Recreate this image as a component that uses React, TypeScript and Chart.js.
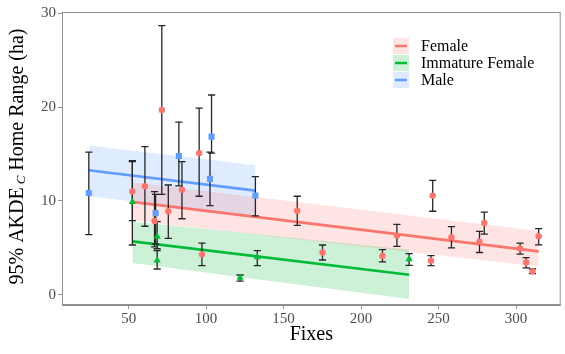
import React, { useEffect, useRef } from 'react';
import { Chart, registerables } from 'chart.js';

Chart.register(...registerables);

// ---------------- data ----------------
const femaleX = [52.4, 60.5, 66.7, 71.4, 75.6, 84.4, 95.5, 97.3, 158.8, 175.1, 213.8, 223.1, 245.1, 246.2, 258.3, 276.4, 279.5, 302.6, 306.5, 310.6, 314.6];
const femaleY = [11.0, 11.56, 7.86, 19.7, 8.9, 11.2, 15.1, 4.3, 8.96, 4.5, 4.13, 6.3, 3.63, 10.57, 6.12, 5.64, 7.65, 4.92, 3.43, 2.49, 6.22];
const femaleLo = [7.9, 7.3, 5.1, 10.7, 6.0, 8.1, 10.5, 3.1, 7.4, 3.7, 3.5, 5.15, 3.1, 8.9, 5.0, 4.5, 6.45, 4.32, 2.87, 2.24, 5.32];
const femaleHi = [14.2, 15.8, 11.0, 28.7, 11.7, 14.2, 19.9, 5.5, 10.5, 5.3, 4.8, 7.5, 4.16, 12.2, 7.25, 6.76, 8.8, 5.5, 3.95, 2.74, 7.05];

const immX = [52.4, 68.4, 68.4, 121.9, 133.0, 231.0];
const immY = [9.9, 6.2, 3.66, 1.82, 4.0, 3.8];
const immLo = [5.3, 4.9, 2.74, 1.45, 3.1, 3.13];
const immHi = [14.3, 7.8, 4.7, 2.1, 4.7, 4.37];

const maleX = [24.3, 67.4, 82.4, 102.5, 103.5, 131.8];
const maleY = [10.85, 8.7, 14.8, 12.35, 16.86, 10.57];
const maleLo = [6.4, 5.4, 11.6, 9.5, 15.1, 8.4];
const maleHi = [15.2, 10.7, 18.4, 15.2, 21.3, 12.6];

// fitted lines and confidence ribbons
const femaleFitX = [52.4, 314.6];
const femaleFitY = [9.9, 4.62];
const femaleBandHi = [12.0, 6.8];
const femaleBandLo = [7.9, 3.0];

const immFitX = [52.4, 231.0];
const immFitY = [5.69, 2.13];
const immBandHi = [7.8, 4.8];
const immBandLo = [3.38, -0.46];

const maleFitX = [24.3, 131.8];
const maleFitY = [13.27, 11.1];
const maleBandHi = [15.9, 13.8];
const maleBandLo = [10.5, 8.4];

const xTicks = [50, 100, 150, 200, 250, 300];
const yTicks = [0, 10, 20, 30];
const legendLabels = ['Female', 'Immature Female', 'Male'];
const yTitleParts = ['95% AKDE', 'C', ' Home Range (ha)'];

// ---------------- styles ----------------
const RED = '#F8766D';
const GREEN = '#00BA38';
const BLUE = '#619CFF';
const RED_FILL = 'rgba(248,118,109,0.2)';
const GREEN_FILL = 'rgba(0,186,56,0.2)';
const BLUE_FILL = 'rgba(97,156,255,0.2)';
const FONT = "'Liberation Serif', 'Times New Roman', serif";
const AXIS = '#8f8f8f';

const pts = (xs: number[], ys: number[]) => xs.map((x, i) => ({ x, y: ys[i] }));

const errorBarPlugin = {
  id: 'errorBars',
  beforeDatasetsDraw(chart: any) {
    chart.$errDrawn = false;
  },
  beforeDatasetDraw(chart: any, args: any) {
    const ds = chart.data.datasets[args.index];
    if (!ds.isPoints || chart.$errDrawn) return;
    chart.$errDrawn = true;
    const { ctx, scales } = chart;
    const xs = scales.x, ys = scales.y;
    const groups = [
      [femaleX, femaleLo, femaleHi],
      [immX, immLo, immHi],
      [maleX, maleLo, maleHi],
    ];
    ctx.save();
    ctx.strokeStyle = '#262626';
    ctx.lineWidth = 1.3;
    const cap = 3.6;
    groups.forEach(([gx, lo, hi]) => {
      gx.forEach((x: number, i: number) => {
        const px = xs.getPixelForValue(x);
        const p1 = ys.getPixelForValue(lo[i]);
        const p2 = ys.getPixelForValue(hi[i]);
        ctx.beginPath();
        ctx.moveTo(px, p1);
        ctx.lineTo(px, p2);
        ctx.moveTo(px - cap, p1);
        ctx.lineTo(px + cap, p1);
        ctx.moveTo(px - cap, p2);
        ctx.lineTo(px + cap, p2);
        ctx.stroke();
      });
    });
    ctx.restore();
  },
};

const frameLegendPlugin = {
  id: 'frameLegend',
  afterDraw(chart: any) {
    const { ctx, chartArea } = chart;
    ctx.save();
    ctx.strokeStyle = AXIS;
    ctx.lineWidth = 1;
    ctx.strokeRect(chartArea.left + 0.5, chartArea.top + 0.5, chartArea.right - chartArea.left - 1, chartArea.bottom - chartArea.top - 1);

    // legend
    const colors = [RED, GREEN, BLUE];
    const fills = [RED_FILL, GREEN_FILL, BLUE_FILL];
    const x0 = 393;
    legendLabels.forEach((label, i) => {
      const cy = 46 + i * 17;
      ctx.fillStyle = fills[i];
      ctx.fillRect(x0, cy - 8, 16, 16);
      ctx.strokeStyle = colors[i];
      ctx.lineWidth = 2.5;
      ctx.beginPath();
      ctx.moveTo(x0 + 2, cy);
      ctx.lineTo(x0 + 14, cy);
      ctx.stroke();
      ctx.fillStyle = '#000';
      ctx.font = `16px ${FONT}`;
      ctx.textBaseline = 'middle';
      ctx.textAlign = 'left';
      ctx.fillText(label, 421, cy + 1);
    });

    // y-axis title with subscript C
    const mainFont = `20px ${FONT}`;
    const subFont = `italic 13px ${FONT}`;
    ctx.font = mainFont;
    const w1 = ctx.measureText(yTitleParts[0]).width;
    const w3 = ctx.measureText(yTitleParts[2]).width;
    const wSpace = ctx.measureText(' ').width;
    ctx.font = subFont;
    const w2 = ctx.measureText(yTitleParts[1]).width;
    const total = w1 + wSpace * 0.6 + w2 + w3;
    const cy = (chartArea.top + chartArea.bottom) / 2 - 2;
    ctx.translate(16, cy);
    ctx.rotate(-Math.PI / 2);
    ctx.fillStyle = '#000';
    ctx.textAlign = 'left';
    ctx.textBaseline = 'alphabetic';
    let x = -total / 2;
    ctx.font = mainFont;
    ctx.fillText(yTitleParts[0], x, 7);
    x += w1 + wSpace * 0.6;
    ctx.font = subFont;
    ctx.fillText(yTitleParts[1], x, 9);
    x += w2;
    ctx.font = mainFont;
    ctx.fillText(yTitleParts[2], x, 7);
    ctx.restore();
  },
};

export default function App() {
  const ref = useRef<HTMLCanvasElement | null>(null);
  useEffect(() => {
    if (!ref.current) return;
    const band = (xs: number[], ys: number[], fill: any, color: string) => ({
      type: 'line',
      data: pts(xs, ys),
      borderWidth: 0,
      borderColor: 'rgba(0,0,0,0)',
      backgroundColor: color,
      pointRadius: 0,
      fill,
      order: 3,
      tension: 0,
    });
    const fit = (xs: number[], ys: number[], color: string) => ({
      type: 'line',
      data: pts(xs, ys),
      borderWidth: 2.6,
      borderColor: color,
      pointRadius: 0,
      fill: false,
      order: 2,
      tension: 0,
    });
    const points = (xs: number[], ys: number[], color: string, style: string, r: number) => ({
      type: 'line',
      data: pts(xs, ys),
      showLine: false,
      pointStyle: style,
      pointRadius: r,
      pointBackgroundColor: color,
      pointBorderColor: color,
      pointBorderWidth: 0,
      order: 1,
      isPoints: true,
    });
    const chart = new Chart(ref.current, {
      type: 'line',
      data: {
        datasets: [
          band(femaleFitX, femaleBandHi, '+1', RED_FILL),
          band(femaleFitX, femaleBandLo, false, RED_FILL),
          band(immFitX, immBandHi, '+1', GREEN_FILL),
          band(immFitX, immBandLo, false, GREEN_FILL),
          band(maleFitX, maleBandHi, '+1', BLUE_FILL),
          band(maleFitX, maleBandLo, false, BLUE_FILL),
          fit(femaleFitX, femaleFitY, RED),
          fit(immFitX, immFitY, GREEN),
          fit(maleFitX, maleFitY, BLUE),
          points(femaleX, femaleY, RED, 'circle', 3.2),
          points(immX, immY, GREEN, 'triangle', 4.2),
          points(maleX, maleY, BLUE, 'rect', 4.3),
        ] as any,
      },
      options: {
        animation: false,
        responsive: false,
        devicePixelRatio: 1,
        layout: { padding: { left: 0, top: 12, right: 2, bottom: 0 } },
        plugins: { legend: { display: false }, tooltip: { enabled: false } },
        scales: {
          x: {
            type: 'linear',
            min: 7.0,
            max: 328.8,
            afterBuildTicks: (axis: any) => {
              axis.ticks = xTicks.map((v) => ({ value: v }));
            },
            afterFit: (axis: any) => {
              axis.height = 49;
            },
            grid: { drawOnChartArea: false, color: AXIS, tickLength: 4, tickWidth: 1 },
            border: { color: AXIS, width: 1 },
            ticks: { color: '#4d4d4d', font: { family: FONT, size: 15 }, padding: 1, maxRotation: 0, autoSkip: false },
            title: { display: true, text: 'Fixes', color: '#000', font: { family: FONT, size: 20 }, padding: { top: 0, bottom: 7 } },
          },
          y: {
            type: 'linear',
            min: -1.1,
            max: 30.15,
            afterBuildTicks: (axis: any) => {
              axis.ticks = yTicks.map((v) => ({ value: v }));
            },
            afterFit: (axis: any) => {
              axis.width = 62;
            },
            grid: { drawOnChartArea: false, color: AXIS, tickLength: 4, tickWidth: 1 },
            border: { color: AXIS, width: 1 },
            ticks: { color: '#4d4d4d', font: { family: FONT, size: 15 }, padding: 2 },
            title: { display: false },
          },
        },
      } as any,
      plugins: [errorBarPlugin, frameLegendPlugin],
    });
    return () => chart.destroy();
  }, []);
  return (
    <div style={{ position: 'absolute', left: 0, top: 0, width: 565, height: 354, background: '#fff' }}>
      <canvas ref={ref} width={565} height={354} style={{ display: 'block', width: 565, height: 354 }} />
    </div>
  );
}
